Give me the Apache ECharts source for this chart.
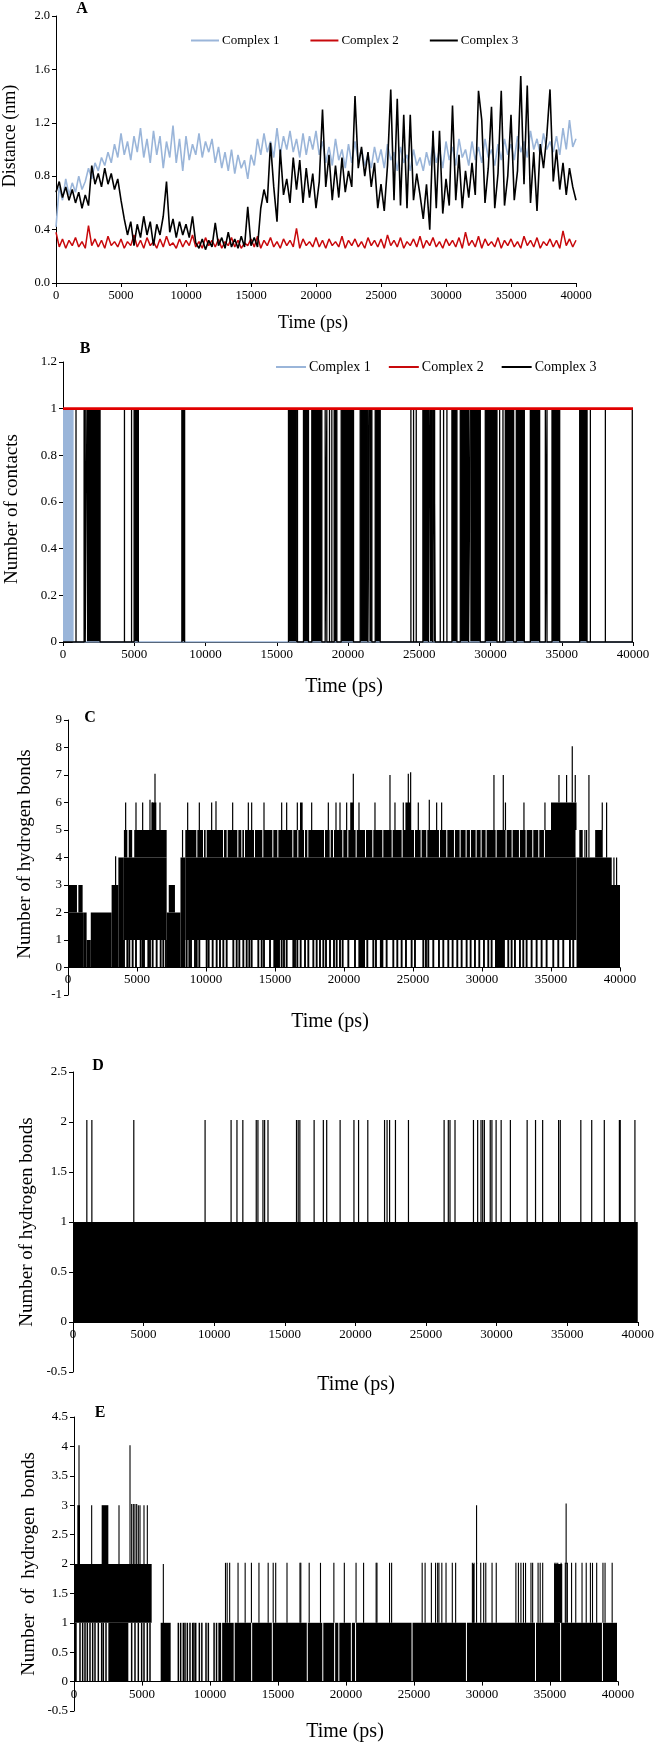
<!DOCTYPE html>
<html><head><meta charset="utf-8">
<script src="https://cdn.jsdelivr.net/npm/echarts@6/dist/echarts.min.js"></script>
<style>html,body{margin:0;padding:0;background:#fff}#c{width:657px;height:1744px}</style>
</head><body><div id="c"></div>
<script>
// ---------- Panel A: distance (nm), one sample every TIME_STEP ps ----------
const TIME_STEP = 250;
const distComplex1 = [
0.42,0.72,0.62,0.78,0.66,0.75,0.68,0.80,0.70,0.76,0.86,0.78,0.90,0.84,0.94,0.88,0.98,0.90,1.04,0.94,
1.12,0.96,1.06,0.92,1.10,0.98,1.16,0.94,1.08,0.90,1.14,0.96,1.10,0.86,1.06,0.94,1.18,0.90,1.08,0.84,
1.10,0.92,1.04,0.96,1.12,0.94,1.06,0.98,1.08,0.90,1.02,0.86,0.98,0.84,1.00,0.82,0.96,0.86,0.92,0.78,
0.96,0.88,1.08,0.96,1.12,0.98,1.06,0.94,1.16,0.96,1.10,1.00,1.14,0.98,1.08,0.94,1.12,0.96,1.10,1.00,
1.14,0.96,1.06,0.90,1.02,0.88,1.08,0.92,1.00,0.86,1.04,0.90,1.06,0.92,1.00,0.88,0.96,0.86,1.02,0.90,
1.00,0.86,1.04,0.92,0.98,0.84,1.02,0.90,0.96,0.84,1.00,0.88,0.94,0.84,0.98,0.88,1.04,0.90,1.00,0.86,
1.06,0.92,1.02,0.88,1.08,0.94,1.00,0.88,1.06,0.92,1.02,0.90,1.08,0.94,1.00,0.88,1.04,0.92,1.08,0.96,
1.04,0.92,1.10,0.98,1.06,0.94,1.14,1.00,1.08,0.96,1.12,1.00,1.06,0.98,1.10,0.96,1.16,1.00,1.22,1.02,
1.08];
const distComplex2 = [
0.38,0.27,0.33,0.26,0.32,0.28,0.34,0.27,0.31,0.26,0.43,0.28,0.33,0.27,0.32,0.26,0.35,0.28,0.31,0.27,
0.33,0.26,0.31,0.28,0.36,0.27,0.32,0.26,0.34,0.28,0.31,0.26,0.33,0.27,0.35,0.28,0.30,0.26,0.33,0.27,
0.32,0.28,0.36,0.27,0.31,0.26,0.34,0.28,0.32,0.27,0.33,0.26,0.31,0.28,0.34,0.27,0.32,0.26,0.30,0.28,
0.33,0.27,0.35,0.26,0.32,0.28,0.34,0.27,0.31,0.26,0.33,0.28,0.32,0.27,0.41,0.26,0.33,0.28,0.31,0.27,
0.34,0.27,0.32,0.26,0.33,0.28,0.31,0.27,0.35,0.26,0.32,0.28,0.33,0.27,0.31,0.26,0.34,0.28,0.32,0.27,
0.33,0.26,0.36,0.28,0.32,0.27,0.34,0.26,0.31,0.28,0.33,0.27,0.35,0.26,0.32,0.28,0.34,0.27,0.31,0.26,
0.33,0.28,0.32,0.27,0.34,0.26,0.38,0.28,0.32,0.27,0.35,0.26,0.33,0.28,0.31,0.27,0.34,0.26,0.32,0.28,
0.33,0.27,0.31,0.26,0.35,0.28,0.32,0.27,0.34,0.26,0.31,0.28,0.33,0.27,0.32,0.26,0.39,0.28,0.33,0.27,
0.32];
const distComplex3 = [
0.68,0.76,0.64,0.72,0.62,0.70,0.60,0.68,0.56,0.66,0.58,0.88,0.74,0.82,0.72,0.86,0.74,0.82,0.70,0.78,
0.62,0.48,0.36,0.46,0.28,0.44,0.34,0.50,0.36,0.46,0.28,0.44,0.36,0.50,0.76,0.38,0.48,0.34,0.46,0.36,
0.44,0.34,0.50,0.30,0.26,0.33,0.25,0.32,0.27,0.45,0.28,0.34,0.26,0.38,0.27,0.33,0.26,0.35,0.27,0.57,
0.28,0.34,0.27,0.56,0.70,0.60,1.05,0.72,0.46,1.00,0.66,0.78,0.60,0.94,0.70,0.92,0.60,0.86,0.64,0.82,
0.56,0.76,1.30,0.72,0.96,0.62,0.88,0.64,0.94,0.68,0.84,0.72,1.40,0.86,1.02,0.80,0.98,0.72,0.90,0.56,
0.74,0.54,0.88,1.45,0.62,1.38,0.58,1.26,0.56,1.26,0.62,0.82,0.66,0.48,0.74,0.40,1.14,0.56,1.14,0.52,
0.78,0.58,1.33,0.62,0.96,0.56,0.84,0.64,0.90,0.66,1.44,1.22,0.60,0.86,1.32,0.56,0.82,1.44,0.58,0.80,
1.26,0.62,0.84,1.55,0.74,1.48,0.60,0.98,0.54,1.04,0.86,1.10,1.45,0.76,1.00,0.70,0.90,0.66,0.86,0.72,
0.62];

// ---------- Panel B: number of contacts (0/1 switching) ----------
const contactsC1Dense = [[0, 700]];            // complex 1 switching 0/1, then 0
const contactsC2 = [[0, 1], [40000, 1]];       // complex 2 always 1
const contactsC3Pulses = [913, 1480, 1560, 4313, 4811, 16455, 18398, 18515, 18702, 18866,
  24414, 24601, 24789, 26474, 26708, 26942, 30641, 30875, 33848, 33965, 37009, 38062, 39950];
const contactsC3Dense = [[1680, 2600], [4990, 5290], [8342, 8535], [15823, 16408], [16876, 17227],
  [17461, 18164], [19030, 19217], [19522, 20387], [20855, 21400], [21500, 21675], [21909, 22260],
  [25256, 25650], [25750, 25950], [26020, 26123], [27293, 27644], [27879, 28464], [28581, 29283],
  [29634, 30454], [31039, 31624], [31811, 32373], [32795, 33450], [34316, 34855], [36260, 36775]];
const contactsC3Bound = [[5290, 8342], [8535, 15823]];

// ---------- Panel C: hydrogen bonds [t0, t1, low, high] dense regions ----------
const hbC_blocks = [
 [0,1100,0,2],[0,650,2,3],[750,1060,2,3],[1100,1350,0,2],[1350,1650,0,1],[1650,3160,0,2],
 [3160,3650,0,3],[3650,4000,0,4],[4000,7150,1,4],[4050,4300,4,5],[4400,4650,4,5],[4800,7150,4,5],
 [6050,6400,5,6],[7150,8150,0,2],[7300,7750,2,3],[8150,8500,0,4],[8500,36850,1,4],
 [14880,15360,0,1],[16811,17004,5,6],[20450,20700,5,6],[21040,21520,0,1],[22600,22850,0,1],
 [24450,24850,5,6],[30940,31660,0,1],[35000,36850,5,6],[36850,40000,0,3],[36850,39400,3,4],
 [37050,37300,4,5],[38200,38750,4,5]];
const hbC_upperBand = [8500, 36850, 4, 5];
const hbC_upperGaps = [8550,9372,9855,10048,11304,11570,12343,12633,12826,13551,14154,14879,15242,
 16328,16690,17174,17415,18623,19034,19275,19951,20313,20917,21593,22124,22849,23525,24249,25143,
 25626,26036,26954,27485,28041,28451,28886,29200,29611,29973,30335,31060,31784,32219,32750,33233,
 33716,34151,34562];
const hbC_spikes = [
 [3450,3,4.05],[4177,5,6],[4927,5,6],[5410,5,6],[5941,5,6.1],[6110,5,6],[6304,5,7.05],[6666,5,6],
 [8300,4,5],[8671,5,6],[9517,5,6],[10410,5,6],[10724,5,6.05],[11932,5,6],[13068,5,6],[13309,5,6],
 [14203,5,6],[15483,5,6],[15845,5,6],[16618,5,6],[17657,5,6],[18865,5,6],[19420,5,6],[19710,5,6],
 [20192,5,6],[20675,5,7.05],[21086,5,6],[22245,5,6],[23332,5,7],[23694,5,6],[24298,5,6],
 [24660,5,7.05],[24829,5,7.1],[25384,5,6],[26181,5,6.1],[26713,5,6],[27075,5,6],[30866,5,7],
 [31543,5,7],[31700,5,6],[33040,5,6],[34562,5,6],[35578,6,7],[36130,6,7],[36541,6,8.05],
 [36758,6,7],[37459,4,5],[37580,4,5],[37749,4,7],[38715,5,6],[39029,4,6],[39560,3,4],[39753,3,4]];
const hbC_dips = [3961,4058,4299,4444,4686,4927,5265,5410,5507,5821,5941,6135,6424,6714,6907,7100,
 8599,8792,8913,9203,9324,9517,10048,10193,10483,10773,11014,11256,11498,11981,12222,12415,12705,
 12947,13140,13309,13792,14034,14203,14638,15483,15652,15845,16328,16449,16618,16860,17174,17415,
 17778,18019,18261,18502,18696,18986,19275,19468,19710,19903,20314,20796,21689,22124,22317,23090,
 23573,23863,24177,24491,24901,25143,25747,25940,26109,26471,26882,27196,27558,27872,28210,28524,
 28886,29176,29490,29804,30142,30456,30697,31905,32146,32388,32750,32992,33233,33595,33958,34320,
 34682,35165,35527,35889,36372,36613];

// ---------- Panel D ----------
const hbD_blocks = [[0, 40000, 0, 1]];
const hbD_spikes = [980,1336,4306,9355,11197,11613,12029,12979,13098,13454,13573,13811,15830,15949,
 16068,17078,17731,17969,18919,19899,20226,20880,22067,22245,22424,22839,23760,26285,26582,26701,
 27057,28364,28661,28899,29018,29136,29552,29671,29968,30325,30978,32166,32760,33264,34393,34512,
 35968,36740,37631,38700,38760,39800];

// ---------- Panel E ----------
const hbE_blocks = [[0,5711,1,2],[0,200,0,1],[245,441,2,3],[2034,2525,2,3],[2525,3995,0,1],
 [6373,7108,0,1],[29300,29420,1,2],[35300,35900,1,2]];
const hbE_base = [10614, 40000, 0, 1];
const hbE_baseGaps = [10893,11816,13100,14620,17190,18330,19200,19510,20431,20739,24893,28893,
 33970,35816,38893];
const hbE_spikes = [[368,2,4.02],[4118,2,4.02],[1299,2,3],[3309,2,3],[4240,2,3.02],[4363,2,3.02],
 [4480,2,3.02],[4608,2,3.02],[4730,2,3],[4853,2,3],[5147,2,3],[5392,2,3],[6569,0,2],[29600,2,3],
 [36186,2,3.03]];
const hbE_spikesTo2 = [11139,11262,11446,12062,12585,13046,13600,14277,14647,14831,15662,16616,16677,
 17293,18124,19108,19877,20739,21293,22216,22277,23200,23354,25601,25816,26278,26586,26739,26832,
 27047,27355,27816,28062,29293,29416,29600,29908,30124,30278,30739,31047,32493,32678,32862,33047,
 33201,33601,33724,34124,34278,34463,35355,35448,35571,35817,36125,36186,36278,36586,36894,37355,
 37663,37971,38125,38433,38894,39048,39571];
const hbE_dips = [441,637,809,980,1176,1373,1544,1789,2034,2157,2353,4240,4485,4730,4975,5147,5392,
 5588,7672,7843,8039,8162,8333,8529,8725,8823,8950,9216,9400,9706,9878,10300,10480];

// ---------- helpers ----------
const FONT = '"Liberation Serif", "Times New Roman", serif';
const BLUE = '#9ab5d9', RED = '#c8090c', BLACK = '#000';

function gapped(band, gaps) {
  const b = [band[0]].concat(gaps, [band[1]]);
  const out = [];
  for (let i = 0; i < b.length - 1; i++) out.push([b[i], b[i + 1], band[2], band[3]]);
  return out;
}
function rectSeries(gi, data, color, gapPx) {
  return {
    type: 'custom', xAxisIndex: gi, yAxisIndex: gi, data, clip: true, silent: true,
    encode: { x: [0, 1], y: [2, 3] },
    renderItem: (p, api) => {
      const a = api.coord([api.value(0), api.value(3)]);
      const b = api.coord([api.value(1), api.value(2)]);
      return { type: 'rect', shape: { x: a[0], y: a[1], width: Math.max(b[0] - a[0] - gapPx, 0.8), height: b[1] - a[1] },
        style: { fill: color } };
    }
  };
}
function spikeSeries(gi, data, color, w) {
  return {
    type: 'custom', xAxisIndex: gi, yAxisIndex: gi, data, clip: true, silent: true,
    encode: { x: 0, y: [1, 2] },
    renderItem: (p, api) => {
      const a = api.coord([api.value(0), api.value(1)]);
      const b = api.coord([api.value(0), api.value(2)]);
      return { type: 'line', shape: { x1: a[0], y1: a[1], x2: a[0], y2: b[1] },
        style: { stroke: color, lineWidth: w } };
    }
  };
}
function lineSeries(gi, name, data, color, w) {
  return { type: 'line', name, xAxisIndex: gi, yAxisIndex: gi, data, showSymbol: false, symbol: 'none',
    lineStyle: { color, width: w }, itemStyle: { color }, silent: true };
}

// complex 3 contact trace built from its events
const c3Events = contactsC3Pulses.map(t => [t, t]).concat(contactsC3Dense, contactsC3Bound)
  .sort((a, b) => a[0] - b[0]);
const c3Line = [[0, 0]];
c3Events.forEach(([s, e]) => { c3Line.push([s, 0], [s, 1], [e, 1], [e, 0]); });
c3Line.push([40000, 0]);
const c1Line = [[0, 1], [contactsC1Dense[0][1], 1], [contactsC1Dense[0][1], 0], [40000, 0]];

const grids = [
  { left: 56, top: 16, width: 520, height: 267 },
  { left: 63, top: 362, width: 570, height: 280 },
  { left: 68, top: 720, width: 552, height: 275 },
  { left: 73, top: 1072, width: 565, height: 300 },
  { left: 74, top: 1417, width: 544, height: 294 }
];
const yCfg = [[0, 2, 0.4, v => v.toFixed(1)], [0, 1.2, 0.2, null], [-1, 9, 1, null], [-0.5, 2.5, 0.5, null], [-0.5, 4.5, 0.5, null]];
const labelSize = [12.5, 13, 13, 13, 13];
// x axis sits on the zero line of each panel (pixel lift from the grid bottom)
const xLift = [0, 0, -27.5, -50, -29.4];

const xAxis = grids.map((g, i) => ({
  type: 'value', gridIndex: i, min: 0, max: 40000, interval: 5000, splitLine: { show: false },
  offset: xLift[i],
  axisLine: { onZero: false, lineStyle: { color: '#000', width: 1 } },
  axisTick: { length: 4, lineStyle: { color: '#000' } },
  axisLabel: { color: '#000', fontFamily: FONT, fontSize: labelSize[i], margin: 6, formatter: v => String(v) }
}));
const yAxis = yCfg.map((c, i) => ({
  type: 'value', gridIndex: i, min: c[0], max: c[1], interval: c[2], splitLine: { show: false },
  axisLine: { show: true, onZero: false, lineStyle: { color: '#000', width: 1 } },
  axisTick: { show: true, length: 4, lineStyle: { color: '#000' } },
  axisLabel: { color: '#000', fontFamily: FONT, fontSize: labelSize[i], margin: 6,
    formatter: c[3] || (v => String(+v.toFixed(2))) }
}));

const series = [
  // A
  lineSeries(0, 'Complex 1', distComplex1.map((v, i) => [i * TIME_STEP, v]), BLUE, 1.6),
  lineSeries(0, 'Complex 2', distComplex2.map((v, i) => [i * TIME_STEP, v]), RED, 1.5),
  lineSeries(0, 'Complex 3', distComplex3.map((v, i) => [i * TIME_STEP, v]), BLACK, 1.6),
  // B
  rectSeries(1, contactsC1Dense.map(d => [d[0], d[1], 0, 1]), BLUE, 0),
  lineSeries(1, 'Complex 1', c1Line, BLUE, 1.3),
  rectSeries(1, contactsC3Dense.map(d => [d[0], d[1], 0, 1]), BLACK, 0),
  lineSeries(1, 'Complex 3', c3Line, BLACK, 1.3),
  lineSeries(1, 'Complex 2', contactsC2, '#e00000', 2.6),
  // C
  rectSeries(2, hbC_blocks, BLACK, 0),
  rectSeries(2, gapped(hbC_upperBand, hbC_upperGaps), BLACK, 1),
  spikeSeries(2, hbC_spikes, BLACK, 1.2),
  spikeSeries(2, hbC_dips.map(t => [t, 0, 1]), BLACK, 1.9),
  // D
  rectSeries(3, hbD_blocks, BLACK, 0),
  spikeSeries(3, hbD_spikes.map(t => [t, 1, 2.02]), BLACK, 1.2),
  // E
  rectSeries(4, hbE_blocks, BLACK, 0),
  rectSeries(4, gapped(hbE_base, hbE_baseGaps), BLACK, 1),
  spikeSeries(4, hbE_spikes, BLACK, 1.1),
  spikeSeries(4, hbE_spikesTo2.map(t => [t, 1, 2.02]), BLACK, 1.1),
  spikeSeries(4, hbE_dips.map(t => [t, 0, 1]), BLACK, 1.5)
];

function txt(text, x, y, size, opts) {
  opts = opts || {};
  return { type: 'text', x, y, rotation: opts.rot || 0, silent: true,
    style: { text, font: (opts.bold ? 'bold ' : '') + size + 'px ' + FONT, fill: '#000', align: 'center', verticalAlign: 'middle' } };
}
const R = Math.PI / 2;
const graphic = [
  txt('A', 82, 9, 16, { bold: true }), txt('B', 85, 349, 16, { bold: true }), txt('C', 90, 718, 16, { bold: true }),
  txt('D', 98, 1066, 16, { bold: true }), txt('E', 100, 1413, 16, { bold: true }),
  txt('Distance (nm)', 10, 136, 18, { rot: R }),
  txt('Number of contacts', 12, 509, 19, { rot: R }),
  txt('Number of hydrogen bonds', 25, 854, 19, { rot: R }),
  txt('Number of hydrogen bonds', 27, 1222, 19, { rot: R }),
  txt('Number  of  hydrogen  bonds', 29, 1564, 19, { rot: R }),
  txt('Time (ps)', 313, 323, 18), txt('Time (ps)', 344, 687, 20), txt('Time (ps)', 330, 1022, 20),
  txt('Time (ps)', 356, 1385, 20), txt('Time (ps)', 345, 1732, 20)
];

const legendNames = ['Complex 1', 'Complex 2', 'Complex 3'];
const legend = [
  { left: 186, top: 29, itemWidth: 28, itemHeight: 2, itemGap: 31, icon: 'rect', selectedMode: false,
    data: legendNames, textStyle: { fontFamily: FONT, fontSize: 13, color: '#000', padding: [0, 0, 0, -2] } },
  { left: 271, top: 355, itemWidth: 30, itemHeight: 2, itemGap: 18, icon: 'rect', selectedMode: false,
    data: legendNames, textStyle: { fontFamily: FONT, fontSize: 14, color: '#000', padding: [0, 0, 0, -2] } }
];

const chart = echarts.init(document.getElementById('c'), null, { renderer: 'canvas' });
chart.setOption({ animation: false, backgroundColor: '#fff', grid: grids, xAxis, yAxis, series, graphic, legend });
</script></body></html>
